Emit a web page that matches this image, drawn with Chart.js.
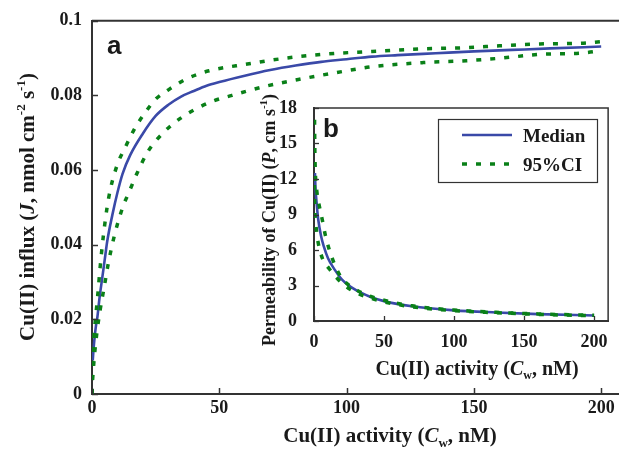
<!DOCTYPE html>
<html>
<head>
<meta charset="utf-8">
<script src="https://cdn.jsdelivr.net/npm/chart.js@4.4.1/dist/chart.umd.min.js"></script>
<style>
  body { margin: 0; background: #fff; }
  #wrap { position: relative; width: 619px; height: 450px; }
  #insetChart { position: absolute; left: 240px; top: 80px; }
</style>
</head>
<body>
<div id="wrap">
  <canvas id="mainChart" width="619" height="450"></canvas>
  <canvas id="insetChart" width="379" height="300"></canvas>
</div>
<script>
// panel a: Cu(II) influx J vs activity Cw
var fluxMedC = [0.3, 0.6, 1, 1.5, 2, 3, 4, 5, 6, 8, 10, 12, 15, 20, 25, 30, 35, 40, 45, 50, 60, 70, 80, 90, 100, 110, 120, 135, 150, 165, 180, 200];
var fluxMedJ = [0.009, 0.012, 0.015, 0.018, 0.020, 0.026, 0.031, 0.036, 0.041, 0.048, 0.054, 0.059, 0.064, 0.0698, 0.0745, 0.0775, 0.0797, 0.0812, 0.0826, 0.0836, 0.0853, 0.0868, 0.0880, 0.0890, 0.0897, 0.0904, 0.0908, 0.0913, 0.0918, 0.0922, 0.0926, 0.0931];
var fluxUpC = [0, 0.3, 0.7, 1.2, 2.2, 3.2, 4.4, 6.4, 9.7, 13, 17, 21, 25, 30, 37, 46, 61, 74, 90, 110, 130, 147, 160, 176, 193, 200];
var fluxUpJ = [0, 0.010, 0.015, 0.019, 0.026, 0.034, 0.042, 0.052, 0.061, 0.066, 0.0714, 0.0755, 0.079, 0.0815, 0.0844, 0.0866, 0.0884, 0.0898, 0.0910, 0.0918, 0.0925, 0.0928, 0.0933, 0.0938, 0.0940, 0.0944];
var fluxLoC = [0, 0.1, 0.8, 1.9, 3.2, 4.8, 6.4, 9, 12.3, 14.3, 17.6, 22, 28, 35, 42, 48, 55, 61, 69, 82, 100, 110, 130, 147, 159, 176, 193, 200];
var fluxLoJ = [0, 0.002, 0.009, 0.0163, 0.0225, 0.0287, 0.035, 0.043, 0.0505, 0.0537, 0.059, 0.065, 0.070, 0.074, 0.0768, 0.0786, 0.0800, 0.0812, 0.0826, 0.0844, 0.0866, 0.0877, 0.0888, 0.0893, 0.0899, 0.0910, 0.0914, 0.0920];
var fluxXTicks = [0, 50, 100, 150, 200];
var fluxYTicks = [0, 0.02, 0.04, 0.06, 0.08, 0.1];
var fluxYLabels = ["0", "0.02", "0.04", "0.06", "0.08", "0.1"];

// panel b: permeability P vs activity Cw
var permMedC = [0.7, 1, 2, 3, 5, 7, 10, 15, 20, 30, 40, 50, 70, 100, 130, 160, 200];
var permMedP = [12.5, 11.4, 9.8, 8.6, 7.2, 6.3, 5.3, 4.3, 3.5, 2.6, 2.05, 1.68, 1.24, 0.9, 0.72, 0.58, 0.47];
var permUpC = [0.4, 0.6, 1, 2, 4, 6, 8, 11, 15, 20, 30, 40, 50, 70, 100, 130, 160, 200];
var permUpP = [17, 14.5, 12.5, 11, 9.6, 8.5, 7.3, 6.0, 4.7, 3.6, 2.65, 2.1, 1.75, 1.28, 0.93, 0.73, 0.6, 0.48];
var permLoC = [0.3, 0.5, 0.8, 1.3, 2, 3, 6, 11, 20, 30, 40, 50, 70, 100, 130, 160, 200];
var permLoP = [11.5, 10, 9, 8.2, 7.4, 6.6, 5.3, 4.4, 3.2, 2.4, 1.95, 1.62, 1.2, 0.87, 0.7, 0.56, 0.45];
var permXTicks = [0, 50, 100, 150, 200];
var permYTicks = [0, 3, 6, 9, 12, 15, 18];

var seriesNames = ["Median", "95%CI"];
var blue = "#3a49a8";
var green = "#0a8018";
var ink = "#1a1a1a";
var serif = '"Liberation Serif", "Times New Roman", serif';

Chart.defaults.font.family = serif;
Chart.defaults.font.weight = "bold";
Chart.defaults.font.size = 18;
Chart.defaults.color = ink;

function pts(xs, ys) {
  return xs.map(function (x, i) { return { x: x, y: ys[i] }; });
}

// mixed style text: [text, style] with style "" | "i" | "sup" | "sub"
function richText(ctx, parts, x, y, size, rotate) {
  ctx.save();
  ctx.translate(x, y);
  if (rotate) ctx.rotate(-Math.PI / 2);
  function fontFor(s) {
    var sz = (s == "sup" || s == "sub") ? Math.round(size * 0.62) : size;
    return (s == "i" ? "italic " : "") + "bold " + sz + "px " + serif;
  }
  var total = 0;
  parts.forEach(function (p) { ctx.font = fontFor(p[1]); total += ctx.measureText(p[0]).width; });
  var cx = -total / 2;
  ctx.fillStyle = ink;
  ctx.textBaseline = "alphabetic";
  ctx.textAlign = "left";
  parts.forEach(function (p) {
    ctx.font = fontFor(p[1]);
    var dy = p[1] == "sup" ? -size * 0.42 : (p[1] == "sub" ? size * 0.22 : 0);
    ctx.fillText(p[0], cx, dy);
    cx += ctx.measureText(p[0]).width;
  });
  ctx.restore();
}

// inward tick marks, frame, titles, panel letter, legend
var decor = {
  id: "decor",
  afterDraw: function (chart, args, o) {
    var ctx = chart.ctx, a = chart.chartArea;
    var xs = chart.scales.x, ys = chart.scales.y;
    ctx.save();
    ctx.strokeStyle = "#333";
    ctx.lineWidth = o.tickWidth;
    xs.ticks.forEach(function (t) {
      var px = Math.round(xs.getPixelForValue(t.value)) + 0.5;
      ctx.beginPath(); ctx.moveTo(px, a.bottom); ctx.lineTo(px, a.bottom - o.tickLen); ctx.stroke();
    });
    ys.ticks.forEach(function (t) {
      var py = Math.round(ys.getPixelForValue(t.value)) + 0.5;
      ctx.beginPath(); ctx.moveTo(a.left, py); ctx.lineTo(a.left + o.tickLen, py); ctx.stroke();
    });
    ctx.lineWidth = o.frameWidth;
    ctx.beginPath();
    ctx.moveTo(a.left, a.top);
    ctx.lineTo(a.right, a.top);
    if (o.box) ctx.lineTo(a.right, a.bottom);
    ctx.stroke();

    ctx.fillStyle = ink;
    ctx.font = 'bold 26px "Liberation Sans", Arial, sans-serif';
    ctx.textAlign = "left";
    ctx.textBaseline = "alphabetic";
    ctx.fillText(o.letter, a.left + o.letterDx, a.top + o.letterDy);

    richText(ctx, o.xTitle, a.left + o.xTitleDx, o.xTitleY, o.xTitleSize, false);
    richText(ctx, o.yTitle, o.yTitleX, o.yTitleY, o.yTitleSize, true);

    if (o.legend) {
      var bx = a.left + 124, by = a.top + 11;
      ctx.strokeStyle = "#333";
      ctx.lineWidth = 1.2;
      ctx.strokeRect(bx + 0.5, by + 0.5, 159, 63);
      var ds = chart.data.datasets;
      [ds[2], ds[0]].forEach(function (d, i) {
        var ly = by + 16 + i * 29;
        ctx.strokeStyle = d.borderColor;
        ctx.lineWidth = d.borderWidth;
        ctx.setLineDash(d.borderDash || []);
        ctx.beginPath(); ctx.moveTo(bx + 24, ly); ctx.lineTo(bx + 74, ly); ctx.stroke();
        ctx.setLineDash([]);
        ctx.font = "bold 19px " + serif;
        ctx.fillStyle = ink;
        ctx.fillText(seriesNames[i], bx + 85, ly + 7);
      });
    }
    ctx.restore();
  }
};

function lineSet(data, dashed) {
  return {
    data: data,
    borderColor: dashed ? green : blue,
    borderWidth: dashed ? 3.5 : 2.6,
    borderDash: dashed ? [5, 9] : [],
    pointRadius: 0,
    fill: false,
    cubicInterpolationMode: "monotone"
  };
}

function axis(ticks, labels, min, max, pad, fit) {
  return {
    type: "linear",
    min: min,
    max: max,
    afterBuildTicks: function (s) { s.ticks = ticks.map(function (v) { return { value: v }; }); },
    afterFit: fit,
    grid: { display: false, drawTicks: false },
    border: { color: "#333", width: 2 },
    ticks: {
      padding: pad,
      autoSkip: false,
      maxRotation: 0,
      callback: function (v, i) { return labels[i]; }
    }
  };
}

new Chart(document.getElementById("mainChart"), {
  type: "line",
  data: {
    datasets: [
      lineSet(pts(fluxUpC, fluxUpJ), true),
      lineSet(pts(fluxLoC, fluxLoJ), true),
      lineSet(pts(fluxMedC, fluxMedJ), false)
    ]
  },
  options: {
    responsive: false,
    animation: false,
    events: [],
    layout: { padding: { top: 20, right: 0, left: 0, bottom: 0 } },
    scales: {
      x: axis(fluxXTicks, fluxXTicks.map(String), 0, 207, 4, function (s) { s.height = 56; }),
      y: axis(fluxYTicks, fluxYLabels, 0, 0.1, 10, function (s) { s.width = 92; })
    },
    plugins: {
      legend: { display: false },
      tooltip: { enabled: false },
      decor: {
        tickLen: 6, tickWidth: 1.5, frameWidth: 2, box: false, legend: false,
        letter: "a", letterDx: 15, letterDy: 33,
        xTitle: [["Cu(II) activity (", ""], ["C", "i"], ["w", "sub"], [", nM)", ""]],
        xTitleDx: 298, xTitleY: 442, xTitleSize: 21,
        yTitle: [["Cu(II) influx (", ""], ["J", "i"], [", nmol cm", ""], ["-2", "sup"], [" s", ""], ["-1", "sup"], [")", ""]],
        yTitleX: 34, yTitleY: 207, yTitleSize: 21
      }
    }
  },
  plugins: [decor]
});

new Chart(document.getElementById("insetChart"), {
  type: "line",
  data: {
    datasets: [
      lineSet(pts(permUpC, permUpP), true),
      lineSet(pts(permLoC, permLoP), true),
      lineSet(pts(permMedC, permMedP), false)
    ]
  },
  options: {
    responsive: false,
    animation: false,
    events: [],
    layout: { padding: { top: 28, right: 8, left: 0, bottom: 0 } },
    scales: {
      x: axis(permXTicks, permXTicks.map(String), 0, 210, 11, function (s) { s.height = 59; }),
      y: axis(permYTicks, permYTicks.map(String), 0, 18, 17, function (s) { s.width = 74; })
    },
    plugins: {
      legend: { display: false },
      tooltip: { enabled: false },
      decor: {
        tickLen: 5, tickWidth: 1.3, frameWidth: 1.5, box: true, legend: true,
        letter: "b", letterDx: 9, letterDy: 29,
        xTitle: [["Cu(II) activity (", ""], ["C", "i"], ["w", "sub"], [", nM)", ""]],
        xTitleDx: 163, xTitleY: 295, xTitleSize: 20,
        yTitle: [["Permeability of Cu(II) (", ""], ["P", "i"], [", cm s", ""], ["-1", "sup"], [")", ""]],
        yTitleX: 35, yTitleY: 140, yTitleSize: 18
      }
    }
  },
  plugins: [decor]
});
</script>
</body>
</html>
